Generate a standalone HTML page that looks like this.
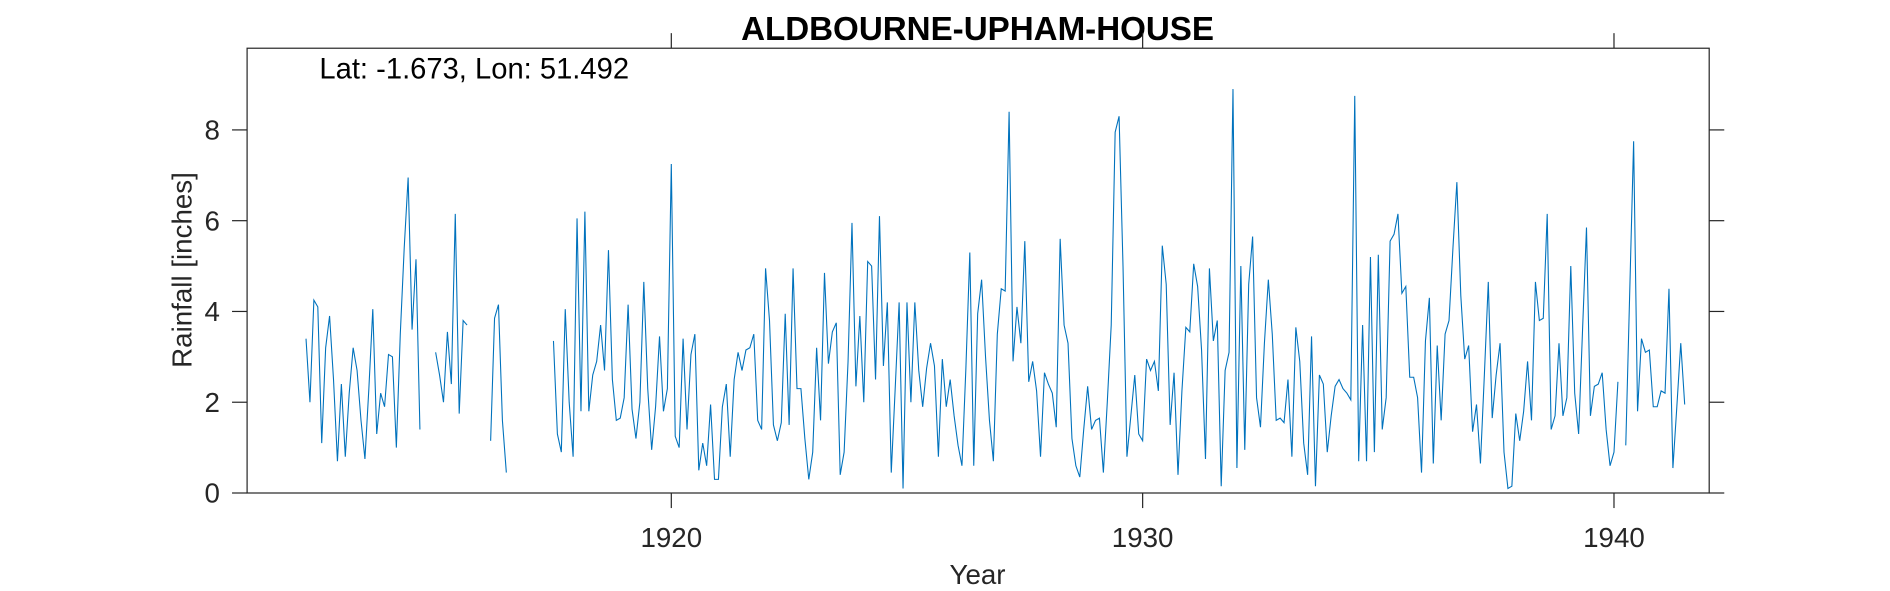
<!DOCTYPE html>
<html><head><meta charset="utf-8"><style>
body{margin:0;background:#fff;}
svg{display:block;}
svg text{font-family:"Liberation Sans",sans-serif;fill:#262626;}
</style></head><body>
<svg id="chart" width="1890" height="591" viewBox="0 0 1568 490.3" xmlns="http://www.w3.org/2000/svg">
<text x="811" y="33" font-size="27.5" font-weight="bold" text-anchor="middle" style="fill:#000">ALDBOURNE-UPHAM-HOUSE</text>
<rect x="205" y="40" width="1213" height="369" fill="none" stroke="#262626" stroke-width="1"/>
<text x="265" y="65" font-size="24.2" style="fill:#000">Lat: -1.673, Lon: 51.492</text>
<g id="axes"></g>
<path id="line" fill="none" stroke="#0072BD" stroke-width="0.9"/>
<text x="811" y="484.5" font-size="23" text-anchor="middle">Year</text>
<text transform="translate(159,224) rotate(-90)" font-size="23" text-anchor="middle">Rainfall [inches]</text>
</svg>
<script>
const startYear = 1912.25;
const seg1 = [3.4,2.0,4.25,4.1,1.1,3.2,3.9,2.5,0.7,2.4,0.8,2.2,3.2,2.7,1.6,0.75,2.3,4.05,1.3,2.2,1.9,3.05,3.0,1.0,3.5,5.4,6.95,3.6,5.15,1.4];
const seg2 = [3.1,2.6,2.0,3.55,2.4,6.15,1.75,3.8,3.7];
const seg3 = [1.15,3.85,4.15,1.6,0.45];
const seg4 = [3.35,1.3,0.9,4.05,2.0,0.8,6.05,1.8,6.2,1.8,2.6,2.9,3.7,2.7,5.35,2.5,1.6,1.65,2.1,4.15,1.85,1.2,2.0,4.65,2.3,0.95,1.9,3.45,1.8,2.3,7.25,1.25,1.0,3.4,1.4,3.05,3.5,0.5,1.1,0.6,1.95,0.3,0.3,1.9,2.4,0.8,2.5,3.1,2.7,3.15,3.2,3.5,1.6,1.4,4.95,3.8,1.5,1.15,1.55,3.95,1.5,4.95,2.3,2.3,1.2,0.3,0.9,3.2,1.6,4.85,2.85,3.55,3.75,0.4,0.9,2.9,5.95,2.35,3.9,2.0,5.1,5.0,2.5,6.1,2.8,4.2,0.45,2.3,4.2,0.1,4.2,2.0,4.2,2.7,1.9,2.75,3.3,2.8,0.8,2.95,1.9,2.5,1.7,1.05,0.6,2.75,5.3,0.6,3.95,4.7,3.0,1.6,0.7,3.5,4.5,4.45,8.4,2.9,4.1,3.3,5.55,2.45,2.9,2.25,0.8,2.65,2.4,2.2,1.45,5.6,3.7,3.3,1.2,0.6,0.35,1.4,2.35,1.4,1.6,1.65,0.45,2.0,3.7,7.95,8.3,5.0,0.8,1.7,2.6,1.3,1.15,2.95,2.7,2.9,2.25,5.45,4.6,1.5,2.65,0.4,2.25,3.65,3.55,5.05,4.55,3.15,0.75,4.95,3.35,3.8,0.15,2.7,3.1,8.9,0.55,5.0,0.95,4.6,5.65,2.1,1.45,3.3,4.7,3.5,1.6,1.65,1.55,2.5,0.8,3.65,2.9,1.1,0.4,3.45,0.15,2.6,2.4,0.9,1.7,2.35,2.5,2.3,2.2,2.05,8.75,0.7,3.7,0.7,5.2,0.9,5.25,1.4,2.1,5.55,5.7,6.15,4.4,4.55,2.55,2.55,2.1,0.45,3.35,4.3,0.65,3.25,1.6,3.5,3.8,5.4,6.85,4.35,2.95,3.25,1.35,1.95,0.65,2.6,4.65,1.65,2.6,3.3,0.9,0.1,0.15,1.75,1.15,1.8,2.9,1.6,4.65,3.8,3.85,6.15,1.4,1.7,3.3,1.7,2.1,5.0,2.2,1.3,3.6,5.85,1.7,2.35,2.4,2.65,1.4,0.6,0.9,2.45];
const seg5 = [1.05,4.4,7.75,1.8,3.4,3.1,3.15,1.9,1.9,2.25,2.2,4.5,0.55,1.9,3.3,1.95];
const segStartIndex = [0,33,47,63,336];
const xTicks = [1920,1930,1940];
const yTicks = [0,2,4,6,8];

const X0=205,X1=1418,Y0=409,Y1=40, xMin=1911.0, xMax=1942.02, yMin=0, yMax=9.8;
const T=12.5;
const xs = t => X0+(t-xMin)/(xMax-xMin)*(X1-X0);
const ys = v => Y0-(v-yMin)/(yMax-yMin)*(Y0-Y1);
const NS="http://www.w3.org/2000/svg";
const axes=document.getElementById('axes');
function mk(tag,attrs){const e=document.createElementNS(NS,tag);for(const k in attrs)e.setAttribute(k,attrs[k]);axes.appendChild(e);return e;}
xTicks.forEach(t=>{
  const x=xs(t);
  const a=mk('line',{x1:x,x2:x,y1:Y0,y2:Y0+T,stroke:'#262626'});
  
  
  const b=mk('line',{x1:x,x2:x,y1:Y1,y2:Y1-T,stroke:'#262626'});
  
  
  const l=mk('text',{x:x,y:Y0+45,'font-size':23,'text-anchor':'middle'});
  l.textContent=t;
  
  
});
yTicks.forEach(v=>{
  const y=ys(v);
  const a=mk('line',{x1:X0-T,x2:X0,y1:y,y2:y,stroke:'#262626'});
  
  
  const b=mk('line',{x1:X1,x2:X1+T,y1:y,y2:y,stroke:'#262626'});
  
  
  const l=mk('text',{x:X0-22.5,y:y+8,'font-size':23,'text-anchor':'end'});
  l.textContent=v;
  
  
});
let d='';
[seg1,seg2,seg3,seg4,seg5].forEach((s,si)=>{
  s.forEach((v,i)=>{
    const t=startYear+(segStartIndex[si]+i)/12;
    d+=(i===0?'M':'L')+xs(t).toFixed(2)+','+ys(v).toFixed(2);
  });
});
document.getElementById('line').setAttribute('d',d);
</script>
</body></html>
